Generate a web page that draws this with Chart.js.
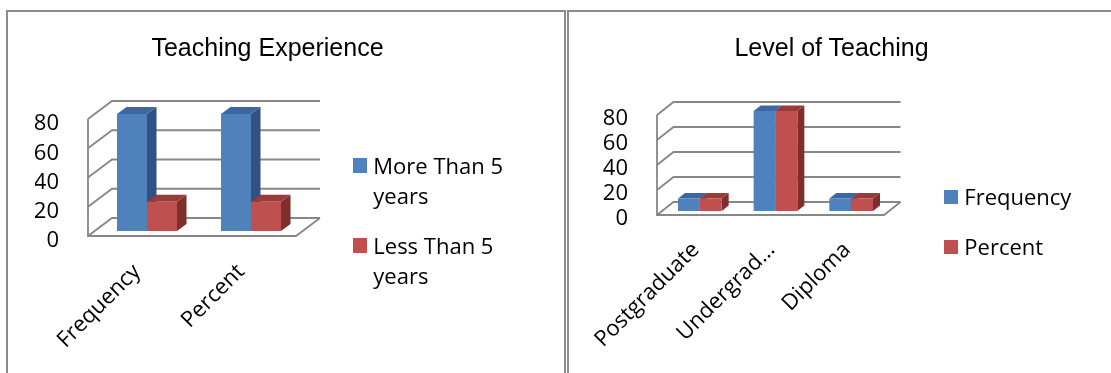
<!DOCTYPE html>
<html>
<head>
<meta charset="utf-8">
<title>Teaching Experience and Level of Teaching</title>
<script src="https://cdn.jsdelivr.net/npm/chart.js@4.4.1/dist/chart.umd.min.js"></script>
<style>
  html, body { margin: 0; padding: 0; background: #fff; }
  #page { position: relative; width: 1111px; height: 373px; overflow: hidden; background: #fff; }
  .frame { position: absolute; box-sizing: border-box; border: 0 solid #8c8c8c; }
  #frameExp { left: 6px; top: 10px; width: 560px; height: 400px; border-width: 2px 2px 0 2px; }
  #frameLvl { left: 567px; top: 10px; width: 600px; height: 400px; border-width: 2px 0 0 2px; }
  canvas { position: absolute; top: 0; }
  #expCanvas { left: 0; }
  #lvlCanvas { left: 567px; }
  .title {
    position: absolute; top: 32px; transform: translateX(-50%);
    font-family: "Liberation Sans", Arial, sans-serif; font-size: 25px; line-height: 30px;
    color: #000; white-space: nowrap;
  }
  .legend {
    position: absolute; display: flex; flex-direction: column; gap: 20px;
    font-family: "Open Sans", sans-serif; font-size: 22px; line-height: 30px; color: #000;
  }
  .legend .item { position: relative; width: 150px; }
  .legend .swatch { position: absolute; left: -20.5px; top: 8.8px; width: 14px; height: 14.4px; }
</style>
</head>
<body>
<div id="page">
  <div class="frame" id="frameExp"></div>
  <div class="frame" id="frameLvl"></div>
  <canvas id="expCanvas" width="566" height="373"></canvas>
  <canvas id="lvlCanvas" width="544" height="373"></canvas>
  <div class="title" style="left:267.5px">Teaching Experience</div>
  <div class="title" style="left:831.5px">Level of Teaching</div>
  <div class="legend" id="expLegend" style="left:373.3px; top:149.5px"></div>
  <div class="legend" id="lvlLegend" style="left:964.3px; top:181px"></div>
</div>
<script>
// ---- data ----
const experienceCategories = ['Frequency', 'Percent'];
const moreThan5Years = [80, 80];
const lessThan5Years = [20, 20];

const levelCategories = ['Postgraduate', 'Undergrad...', 'Diploma'];
const levelFrequency = [10, 80, 10];
const levelPercent = [10, 80, 10];

const yTicks = { min: 0, max: 80, step: 20 };

// ---- colours (front, top, side) ----
const BLUE = { front: '#4f81bd', top: '#3c67a0', side: '#2f5282' };
const RED  = { front: '#c0504d', top: '#9a3b38', side: '#7e2e2c' };

// Draws the pseudo-3D box (side wall, back wall grid, floor) and the
// top/side faces of every bar; the front faces are Chart.js's own bars.
const depth3d = {
  id: 'depth3d',
  beforeDatasetsDraw(chart, args, o) {
    const { ctx, chartArea: a, scales: { y } } = chart;
    const [fx, fy] = o.front, [bx, by] = o.back, [dx, dy] = o.barDepth;
    ctx.save();
    ctx.strokeStyle = o.gridColor;
    ctx.lineWidth = o.gridWidth;
    y.ticks.forEach(t => {
      const py = y.getPixelForValue(t.value);
      ctx.beginPath();
      ctx.moveTo(a.left + fx, py + fy);
      ctx.lineTo(a.left + bx, py + by);
      ctx.lineTo(a.right + bx, py + by);
      ctx.stroke();
    });
    const top = y.getPixelForValue(y.max), base = y.getPixelForValue(y.min);
    ctx.beginPath();
    ctx.moveTo(a.left + fx, top + fy);
    ctx.lineTo(a.left + fx, base + fy);
    ctx.lineTo(a.right + fx, base + fy);
    ctx.lineTo(a.right + bx, base + by);
    ctx.stroke();

    const metas = chart.getSortedVisibleDatasetMetas();
    const n = chart.data.labels.length;
    for (let i = 0; i < n; i++) {
      metas.forEach(meta => {
        const ds = chart.data.datasets[meta.index];
        const p = meta.data[i].getProps(['x', 'y', 'base', 'width'], true);
        const l = p.x - p.width / 2, r = p.x + p.width / 2;
        ctx.fillStyle = ds.sideColor;
        ctx.beginPath();
        ctx.moveTo(r, p.y); ctx.lineTo(r + dx, p.y + dy);
        ctx.lineTo(r + dx, p.base + dy); ctx.lineTo(r, p.base);
        ctx.closePath(); ctx.fill();
        ctx.fillStyle = ds.topColor;
        ctx.beginPath();
        ctx.moveTo(l, p.y); ctx.lineTo(l + dx, p.y + dy);
        ctx.lineTo(r + dx, p.y + dy); ctx.lineTo(r, p.y);
        ctx.closePath(); ctx.fill();
      });
    }
    ctx.restore();
  }
};

const tickFont = { family: 'Open Sans', size: 22 };

function makeDataset(label, values, c) {
  return {
    label, data: values,
    backgroundColor: c.front, topColor: c.top, sideColor: c.side,
    borderWidth: 0, barPercentage: 1.0, categoryPercentage: 0.577
  };
}

function build(canvasId, labels, datasets, g) {
  return new Chart(document.getElementById(canvasId), {
    type: 'bar',
    data: { labels, datasets },
    plugins: [depth3d],
    options: {
      responsive: false,
      devicePixelRatio: 1,
      animation: false,
      layout: { padding: g.padding },
      plugins: {
        legend: { display: false },
        title: { display: false },
        tooltip: { enabled: false },
        depth3d: {
          front: g.front, back: g.back, barDepth: g.barDepth,
          gridColor: '#878787', gridWidth: 1.8
        }
      },
      scales: {
        x: {
          grid: { display: false, drawTicks: false },
          border: { display: false },
          ticks: {
            autoSkip: false, minRotation: 45, maxRotation: 45,
            padding: g.xPad, labelOffset: g.xLabelOffset,
            font: tickFont, color: '#000'
          },
          // fixed axis band; rotated labels may hang outside the plot width
          afterFit(s) { s.height = 140; s.paddingLeft = 0; s.paddingRight = 0; }
        },
        y: {
          min: yTicks.min, max: yTicks.max,
          grid: { display: false, drawTicks: false },
          border: { display: false },
          ticks: {
            autoSkip: false,
            stepSize: yTicks.step, padding: g.yPad, labelOffset: g.yLabelOffset,
            font: tickFont, color: '#000'
          },
          afterFit(s) { s.width = 60; s.paddingTop = 0; s.paddingBottom = 0; }
        }
      }
    }
  });
}

function renderLegend(chart, hostId) {
  const host = document.getElementById(hostId);
  chart.data.datasets.forEach(ds => {
    const item = document.createElement('div');
    item.className = 'item';
    const sw = document.createElement('span');
    sw.className = 'swatch';
    sw.style.background = ds.backgroundColor;
    item.appendChild(sw);
    item.appendChild(document.createTextNode(ds.label));
    host.appendChild(item);
  });
}

const expChart = build('expCanvas', experienceCategories, [
  makeDataset('More Than 5 years', moreThan5Years, BLUE),
  makeDataset('Less Than 5 years', lessThan5Years, RED)
], {
  padding: { left: 35, right: 263, top: 114, bottom: 2 },
  front: [-7, 5], back: [17, -13], barDepth: [9.5, -7],
  yPad: 36, yLabelOffset: 10, xPad: 28, xLabelOffset: -10
});

const lvlChart = build('lvlCanvas', levelCategories, [
  makeDataset('Frequency', levelFrequency, BLUE),
  makeDataset('Percent', levelPercent, RED)
], {
  padding: { left: 35, right: 222, top: 111, bottom: 22 },
  front: [-5, 4], back: [11.5, -9], barDepth: [7, -5.5],
  yPad: 34, yLabelOffset: 8, xPad: 26, xLabelOffset: -4
});

renderLegend(expChart, 'expLegend');
renderLegend(lvlChart, 'lvlLegend');
</script>
</body>
</html>
